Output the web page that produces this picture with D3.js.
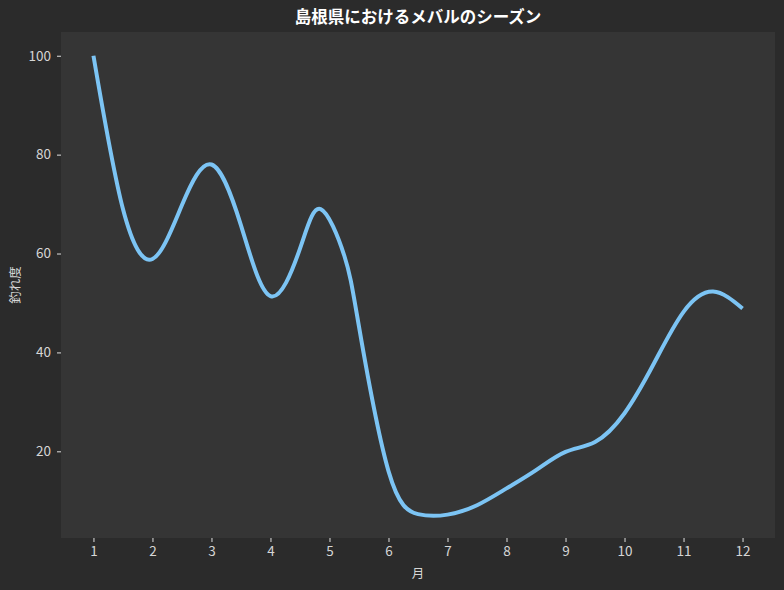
<!DOCTYPE html>
<html>
<head>
<meta charset="utf-8">
<script src="https://cdn.jsdelivr.net/npm/d3@7"></script>
<style>
  html, body { margin: 0; padding: 0; background: #2b2b2b; }
  svg text { font-family: "Noto Sans CJK JP", "Noto Sans", sans-serif; }
</style>
</head>
<body>
<div id="chart"></div>
<script>
// ---- data (month, 釣れ度) ----
const months = [1, 1.5, 2, 2.5, 3, 3.5, 4, 4.5, 4.85, 5.25, 5.5, 6, 6.5, 7, 7.5, 8, 8.5, 9, 9.5, 10, 10.5, 11, 11.5, 12];
const scores = [100, 69, 58.9, 69.8, 78, 65.7, 51.4, 61, 69.0, 59.6, 45.2, 16, 7.3, 7.2, 9.1, 12.5, 16.2, 19.9, 21.9, 27.7, 37.8, 48.2, 52.3, 48.9];
const xTicks = [1, 2, 3, 4, 5, 6, 7, 8, 9, 10, 11, 12];
const yTicks = [20, 40, 60, 80, 100];

const title  = "島根県におけるメバルのシーズン";
const xLabel = "月";
const yLabel = "釣れ度";

const width = 784, height = 590;
const margin = { top: 32, right: 9, bottom: 52, left: 61 };

const svg = d3.select("#chart")
  .append("svg")
  .attr("width", width)
  .attr("height", height);

svg.append("rect")
  .attr("width", width).attr("height", height)
  .attr("fill", "#2b2b2b");

const x = d3.scaleLinear()
  .domain([0.45, 12.55])
  .range([margin.left, width - margin.right]);

const y = d3.scaleLinear()
  .domain([2.47, 104.8])
  .range([height - margin.bottom, margin.top]);

// plot area
svg.append("rect")
  .attr("x", margin.left).attr("y", margin.top)
  .attr("width", width - margin.left - margin.right)
  .attr("height", height - margin.top - margin.bottom)
  .attr("fill", "#353535");

// axes
const xAxis = svg.append("g")
  .attr("transform", `translate(0,${height - margin.bottom})`)
  .call(d3.axisBottom(x).tickValues(xTicks).tickSize(4).tickPadding(4).tickFormat(d3.format("d")));

const yAxis = svg.append("g")
  .attr("transform", `translate(${margin.left},0)`)
  .call(d3.axisLeft(y).tickValues(yTicks).tickSize(4).tickPadding(6).tickFormat(d3.format("d")));

[xAxis, yAxis].forEach(g => {
  g.select(".domain").remove();
  g.selectAll(".tick line").attr("stroke", "#e0e0e0").attr("stroke-width", 1);
  g.selectAll(".tick text").attr("fill", "#d6d6d6").style("font-size", "13.5px");
});

// line
const line = d3.line()
  .x((d, i) => x(months[i]))
  .y(d => y(d))
  .curve(d3.curveNatural);

svg.append("path")
  .datum(scores)
  .attr("d", line)
  .attr("fill", "none")
  .attr("stroke", "#7cc4f4")
  .attr("stroke-width", 4)
  .attr("stroke-linecap", "butt")
  .attr("stroke-linejoin", "round");

// labels
svg.append("text")
  .attr("x", (margin.left + width - margin.right) / 2)
  .attr("y", 23)
  .attr("text-anchor", "middle")
  .attr("fill", "#ffffff")
  .style("font-size", "16.5px")
  .style("font-weight", "bold")
  .text(title);

svg.append("text")
  .attr("x", (margin.left + width - margin.right) / 2)
  .attr("y", 578)
  .attr("text-anchor", "middle")
  .attr("fill", "#d6d6d6")
  .style("font-size", "12.5px")
  .text(xLabel);

svg.append("text")
  .attr("transform", `translate(20,${(margin.top + height - margin.bottom) / 2}) rotate(-90)`)
  .attr("text-anchor", "middle")
  .attr("fill", "#d6d6d6")
  .style("font-size", "12.5px")
  .text(yLabel);
</script>
</body>
</html>
